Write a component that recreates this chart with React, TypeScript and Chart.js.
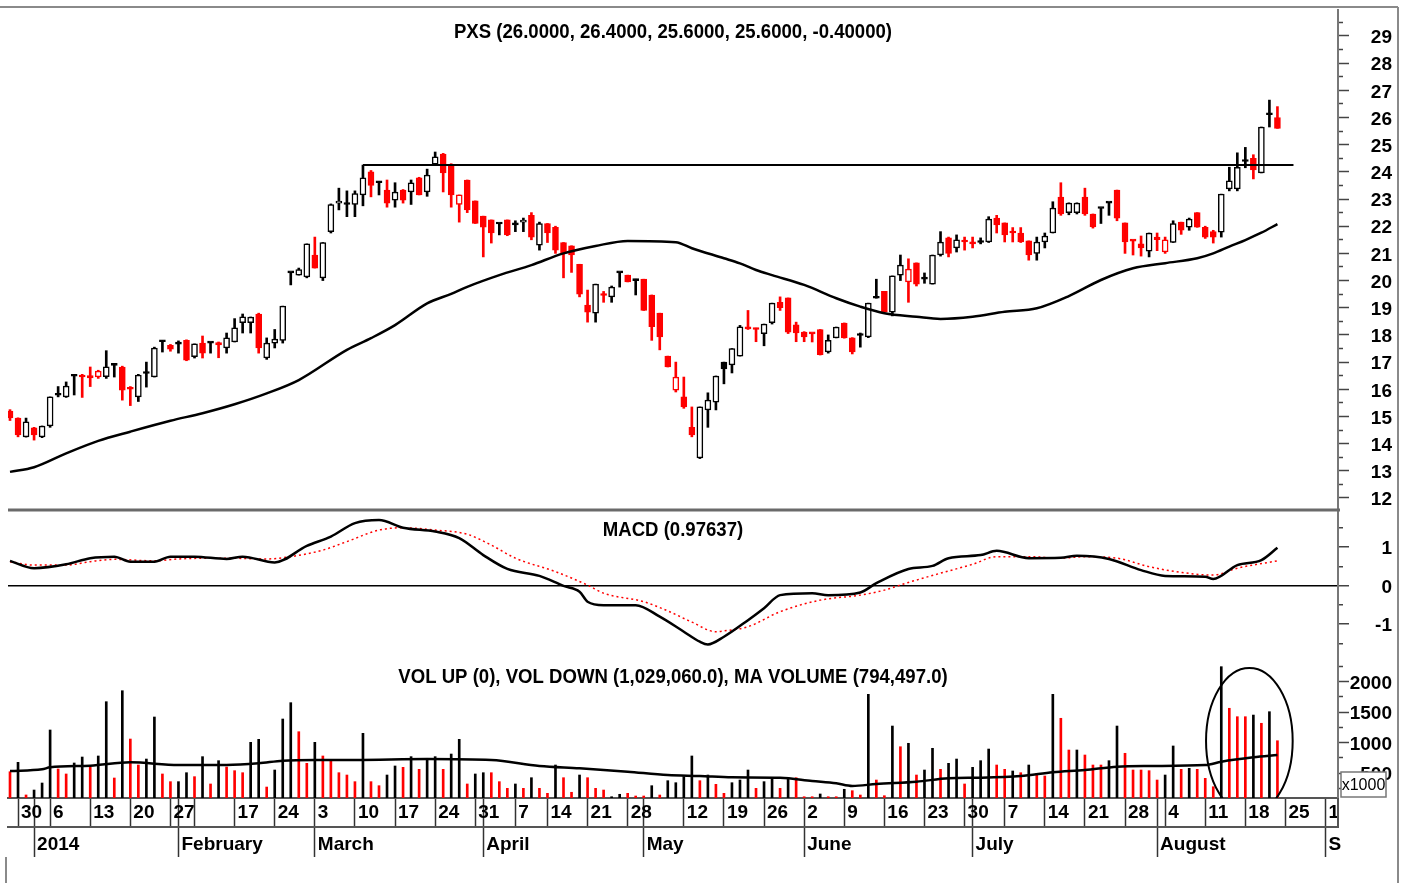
import React, { useEffect, useRef } from 'react';
import { Chart, registerables } from 'chart.js';
Chart.register(...registerables);

// ---------------- DATA ----------------
// trading-day index 0 = 27 Dec 2013 ... 158 = 22 Aug 2014
const openP = [15.20,14.94,14.25,14.58,14.25,14.65,15.85,15.72,16.50,16.50,
16.50,16.45,16.46,16.90,16.82,16.05,15.72,16.60,16.45,17.78,
17.62,17.67,17.80,17.20,17.70,17.72,17.72,17.52,17.74,18.45,
18.45,18.77,17.15,17.70,17.80,20.30,20.20,20.13,20.94,20.10,
21.80,22.85,22.82,22.80,23.15,24.00,23.62,23.33,22.96,23.33,
23.26,23.78,23.26,24.28,24.65,24.25,22.80,23.70,22.93,22.37,
22.23,22.10,22.23,22.08,22.15,22.40,21.30,22.10,21.96,21.40,
21.28,20.60,19.10,18.80,19.50,19.40,20.30,20.20,20.02,20.05,
19.47,18.80,17.22,15.97,15.72,14.60,13.47,15.24,15.53,17.00,
16.90,17.22,18.27,18.25,18.05,18.45,19.20,19.36,18.37,18.10,
18.07,18.20,17.37,17.89,18.44,17.89,18.00,17.93,19.37,19.60,
18.84,20.20,19.95,20.65,20.07,19.87,20.94,21.57,21.20,21.45,
21.40,21.42,21.42,22.30,22.12,21.80,21.75,21.46,21.00,21.42,
21.75,23.07,22.50,22.50,23.07,22.45,22.67,22.87,23.33,22.12,
21.50,21.35,21.08,21.60,21.05,21.40,22.15,21.96,22.50,21.96,
21.80,21.78,23.37,23.37,24.42,24.50,23.96,26.15,26.00];
const highP = [15.25,14.95,14.94,14.60,14.65,15.72,16.10,16.27,16.55,16.55,
16.82,16.70,17.42,16.92,16.85,16.10,16.55,17.00,17.55,17.80,
17.65,17.78,17.82,17.67,17.96,17.74,17.74,18.07,18.60,18.77,
18.66,18.80,17.89,18.20,19.06,20.32,20.46,21.35,21.60,21.40,
22.82,23.40,23.30,23.30,24.25,24.05,23.65,23.70,23.60,23.35,
23.70,23.80,24.10,24.73,24.68,24.30,23.15,23.70,22.93,22.37,
22.23,22.12,22.23,22.20,22.30,22.50,22.15,22.10,22.00,21.40,
21.28,20.60,19.65,19.87,19.60,19.80,20.32,20.20,20.05,20.05,
19.47,18.80,17.22,17.00,16.45,15.35,15.35,15.87,16.49,17.00,
17.50,18.35,18.90,18.25,18.40,19.17,19.40,19.36,18.47,18.12,
18.08,18.20,18.00,18.29,18.44,17.90,18.07,19.17,20.05,19.60,
20.17,20.94,20.80,20.65,20.28,20.94,21.80,21.60,21.68,21.60,
21.60,21.57,22.35,22.40,22.12,21.95,21.95,21.46,21.60,21.75,
22.90,23.60,22.86,22.86,23.40,22.45,22.68,22.88,23.33,22.12,
21.50,21.64,21.75,21.75,21.60,22.20,22.15,22.30,22.50,22.00,
21.85,23.18,24.17,24.70,24.90,24.63,25.65,26.64,26.40];
const lowP = [14.85,14.25,14.24,14.13,14.22,14.60,15.72,15.70,15.79,15.70,
16.10,16.40,16.40,16.45,15.60,15.40,15.55,16.08,16.45,17.37,
17.40,17.33,17.05,17.15,17.15,17.33,17.16,17.33,17.74,18.07,
18.07,17.33,17.10,17.52,17.70,19.84,20.20,20.10,20.46,20.00,
21.75,22.60,22.35,22.35,22.75,23.08,23.15,22.70,22.70,22.85,
22.80,23.15,23.10,24.28,23.26,22.70,22.15,22.50,22.10,20.87,
21.38,21.68,21.65,21.80,21.80,21.50,21.12,21.40,21.00,20.10,
20.30,19.40,18.47,18.47,19.20,19.20,19.76,19.95,19.47,18.90,
17.80,17.45,16.82,15.90,15.30,14.25,13.45,14.60,15.24,16.20,
16.60,17.22,18.20,17.75,17.60,18.40,18.90,18.05,17.75,17.75,
17.74,17.26,17.33,17.89,17.88,17.30,17.55,17.90,19.35,18.84,
18.70,20.00,19.20,19.80,19.90,19.87,20.90,20.87,21.05,21.12,
21.20,21.35,21.40,21.75,21.42,21.42,21.40,20.75,20.75,21.20,
21.75,22.40,22.42,22.45,22.40,21.93,22.10,22.40,22.20,21.00,
20.94,20.90,20.87,21.10,21.00,21.40,21.70,21.85,21.96,21.55,
21.38,21.60,23.30,23.30,24.15,23.74,23.96,25.65,25.60];
const closeP = [14.95,14.32,14.80,14.32,14.65,15.72,15.78,16.12,16.48,16.45,
16.42,16.67,16.83,16.88,15.97,16.00,16.52,16.58,17.52,17.75,
17.48,17.66,17.07,17.67,17.33,17.70,17.63,17.89,18.26,18.67,
18.66,17.52,17.70,17.85,19.06,20.28,20.40,21.35,20.46,21.40,
22.80,22.85,22.80,23.20,23.78,23.50,23.60,22.85,23.26,22.96,
23.60,23.15,23.88,24.55,23.96,23.15,23.15,22.60,22.10,21.96,
21.75,22.08,21.68,22.05,22.15,21.60,22.10,21.75,21.12,21.00,
20.94,19.50,18.84,19.87,19.45,19.76,20.28,19.95,20.00,18.90,
18.30,17.93,16.82,16.45,15.35,14.32,15.35,15.60,16.49,16.75,
17.50,18.30,18.22,18.20,18.40,19.17,19.00,18.10,18.07,17.93,
18.04,17.27,17.80,18.29,17.89,17.37,17.98,19.17,19.35,18.84,
20.17,20.57,20.42,19.87,20.05,20.94,21.42,21.00,21.50,21.42,
21.35,21.40,22.26,22.05,21.68,21.75,21.42,20.94,21.42,21.64,
22.67,22.45,22.85,22.85,22.45,21.97,22.65,22.85,22.30,21.42,
21.45,21.20,21.75,21.50,21.50,22.10,21.85,22.26,21.96,21.60,
21.60,23.18,23.67,24.17,24.38,24.07,25.65,26.10,25.60];
// R = down day (red), B = up day (black)
const candleDir = 'RRBRBBBBBR' + 'RRBBRRBBBB' + 'RBRBRBRBBB' + 'BRBBBBBBRB' + 'BBBBBRBRBR' +
  'BRBBRRRRRR' + 'RBRBBRBRRR' + 'RRRBRBBRBR' + 'RRRRRRBBBB' + 'BBRRBBRRRR' +
  'RRBBRRBBBR' + 'BBRRBBBRBR' + 'RBBRRRRRBB' + 'BRBBRRBBRR' + 'RRBRRBRBRR' + 'RBBBBRBBR';

// volume in thousands of shares
const volume = [521,675,140,221,336,1205,566,484,664,762,
598,779,1669,418,1849,1057,631,729,1418,484,
358,358,505,440,768,320,702,598,538,505,
1003,1052,270,549,1385,1653,1177,659,1003,779,
724,505,467,358,1150,358,292,467,615,593,
768,560,713,768,560,811,1052,320,484,505,
505,358,249,320,249,423,249,167,631,423,
184,467,423,249,221,111,151,167,123,123,
292,139,374,341,440,779,374,467,314,167,
341,385,549,249,358,397,249,397,423,111,
111,156,111,111,233,210,139,1790,385,128,
1270,931,987,467,549,905,560,659,729,320,
593,702,893,631,560,533,505,631,495,451,
1790,1397,877,877,795,631,631,702,1270,823,
549,549,538,385,467,943,560,577,560,413,
275,2243,1561,1423,1423,1450,1315,1505,1029];
const volumeDir = 'RBRBBBRRBB' + 'RBBRBRRBBR' + 'RBBRBRBRRR' + 'BBRBBBRRBR' + 'RRRRBRRBBR' +
  'BRBBRBBRBB' + 'RRRBRBRRBR' + 'RBRRRBBRRR' + 'BRBBBBRBRR' + 'BBBRBBRBRR' +
  'RBRRBRRBRR' + 'BRBRBBRBBR' + 'BBBRRBRBRR' + 'BRRBRRRBBR' + 'RRRRBBRBRR' + 'RBRRRBRBR';

// price moving average (read at these trading-day indexes)
const maIdx = [0,3,7,11,15,20,24,28,32,36,42,45,48,52,55,57,61,65,69,73,77,83,85,89,91,93,95,99,103,106,109,113,116,120,124,128,132,136,140,144,148,150,152,154,156,158];
const maVal = [12.96,13.13,13.64,14.10,14.44,14.84,15.12,15.45,15.85,16.34,17.45,17.88,18.36,19.16,19.51,19.77,20.20,20.57,21.00,21.27,21.46,21.41,21.19,20.82,20.63,20.39,20.20,19.84,19.35,19.04,18.80,18.67,18.59,18.67,18.85,18.98,19.43,20.02,20.45,20.64,20.82,21.00,21.25,21.49,21.76,22.08];

// MACD and its signal line
const macdIdx = [0,3,7,10,13,15,18,20,23,27,29,33,37,40,43,46,49,53,56,59,62,66,69,71,72,74,78,81,84,86,87,89,92,94,96,100,102,106,108,112,115,117,121,123,127,131,133,137,141,144,149,150,153,156,158];
const macdVal = [0.64,0.45,0.55,0.71,0.75,0.62,0.62,0.75,0.75,0.69,0.75,0.60,1.03,1.27,1.62,1.70,1.50,1.40,1.23,0.79,0.43,0.25,-0.01,-0.16,-0.42,-0.51,-0.51,-0.81,-1.20,-1.46,-1.53,-1.33,-0.90,-0.59,-0.25,-0.20,-0.25,-0.18,0.06,0.43,0.51,0.71,0.79,0.90,0.71,0.72,0.77,0.69,0.40,0.25,0.23,0.17,0.53,0.66,0.98];
const sigIdx = [0,3,7,10,13,18,21,27,32,34,39,42,46,49,53,57,60,63,68,72,74,79,82,85,88,89,92,96,101,106,109,112,116,120,123,127,131,134,138,142,146,150,153,158];
const sigVal = [0.62,0.53,0.53,0.62,0.68,0.64,0.69,0.71,0.69,0.72,0.92,1.14,1.44,1.50,1.44,1.33,1.05,0.71,0.36,0.01,-0.20,-0.42,-0.66,-0.95,-1.20,-1.18,-1.07,-0.68,-0.38,-0.25,-0.12,0.08,0.32,0.55,0.75,0.75,0.71,0.75,0.71,0.49,0.34,0.27,0.45,0.64];

// volume moving average
const vmaIdx = [0,4,5,10,15,21,27,31,34,38,43,52,60,66,71,77,82,86,90,96,100,103,105,108,113,117,121,126,130,134,138,142,149,151,155,158];
const vmaVal = [533,560,593,620,675,631,631,659,702,713,713,729,713,615,577,521,467,451,429,423,369,331,287,320,358,413,423,451,511,549,603,615,631,685,757,794];

// horizontal resistance line drawn on the price panel
const resistanceLevel = 24.25;
const resistanceFrom = 44;
const resistanceTo = 160;

// highlighted volume area (ellipse): centre index, centre volume, radii
const highlightIdx = 154.5;
const highlightVol = 1025;
const highlightIdxRadius = 5.4;
const highlightVolRadius = 1197;

// x axis ticks (trading-day index) and their labels
const weekTickIdx = [1,5,10,15,20,23,28,33,38,43,48,53,58,63,67,72,77,84,89,94,99,104,109,114,119,124,129,134,139,144,149,154,159,164];
const weekTickLabels = ['30','6','13','20','27','','17','24','3','10','17','24','31','7','14','21','28','12','19','26','2','9','16','23','30','7','14','21','28','4','11','18','25','1'];
const monthTickIdx = [3,21,38,59,79,99,120,143,164];
const monthTickLabels = ['2014','February','March','April','May','June','July','August','S'];

const titlePrice = 'PXS (26.0000, 26.4000, 25.6000, 25.6000, -0.40000)';
const titleMacd = 'MACD (0.97637)';
const titleVol = 'VOL UP (0), VOL DOWN (1,029,060.0), MA VOLUME (794,497.0)';
const unitLabel = 'x1000';

// ---------------- LAYOUT / STYLE ----------------
const W = 1407;
const H = 883;
const X_MIN = -0.25;
const X_MAX = 165.55;
const P_MIN = 11.558, P_MAX = 29.955;
const M_MIN = -1.727, M_MAX = 1.961;
const V_MIN = 90.2, V_MAX = 2483.6;
const RED = '#ff0000';
const SANS = "'Liberation Sans', Arial, sans-serif";
const tickFont = { family: SANS, size: 19, weight: 'bold' as const };
const TITLE_SCALE_X = 0.885;

const overlayPlugin = {
  id: 'overlay',
  afterDatasetsDraw(chart: any) {
    const { ctx, chartArea, scales } = chart;
    const x = scales.x, yV = scales.yV;
    ctx.save();
    ctx.beginPath();
    ctx.rect(chartArea.left, yV.top, chartArea.right - chartArea.left, yV.bottom - yV.top);
    ctx.clip();
    const cx = x.getPixelForValue(highlightIdx);
    const cy = yV.getPixelForValue(highlightVol);
    const rx = Math.abs(x.getPixelForValue(highlightIdx + highlightIdxRadius) - cx);
    const ry = Math.abs(yV.getPixelForValue(highlightVol + highlightVolRadius) - cy);
    ctx.beginPath();
    ctx.ellipse(cx, cy, rx, ry, 0, 0, Math.PI * 2);
    ctx.strokeStyle = '#000';
    ctx.lineWidth = 2;
    ctx.stroke();
    ctx.restore();
  },
  afterDraw(chart: any) {
    const { ctx, chartArea, scales } = chart;
    const yP = scales.yP, yM = scales.yM, yV = scales.yV;
    ctx.save();
    // panel divider between price and MACD
    ctx.strokeStyle = '#6a6a6a';
    ctx.lineWidth = 3;
    ctx.beginPath();
    ctx.moveTo(chartArea.left, yM.top);
    ctx.lineTo(chartArea.right + 2, yM.top);
    ctx.stroke();
    // outer frame
    ctx.strokeStyle = '#8a8a8a';
    ctx.lineWidth = 2;
    ctx.beginPath();
    ctx.moveTo(0, 7);
    ctx.lineTo(1398, 7);
    ctx.moveTo(1398, 7);
    ctx.lineTo(1398, H);
    ctx.moveTo(6, 857);
    ctx.lineTo(6, H);
    ctx.stroke();
    // right edge of the date row
    ctx.strokeStyle = '#555';
    ctx.lineWidth = 2;
    ctx.beginPath();
    ctx.moveTo(chartArea.right, chartArea.bottom);
    ctx.lineTo(chartArea.right, scales.x2.top);
    ctx.stroke();
    // titles (condensed bold text)
    const cx = (chartArea.left + chartArea.right) / 2;
    const drawTitle = (t: string, y: number) => {
      ctx.save();
      ctx.translate(cx, y);
      ctx.scale(TITLE_SCALE_X, 1);
      ctx.fillStyle = '#000';
      ctx.font = `bold 21px ${SANS}`;
      ctx.textAlign = 'center';
      ctx.textBaseline = 'middle';
      ctx.fillText(t, 0, 0);
      ctx.restore();
    };
    drawTitle(titlePrice, yP.top + 22);
    drawTitle(titleMacd, yM.top + 20);
    drawTitle(titleVol, yV.top + 25);
    // unit box
    const bx = chartArea.right + 3, by = yV.bottom - 26, bw = 45, bh = 25;
    ctx.fillStyle = '#fff';
    ctx.fillRect(bx, by, bw, bh);
    ctx.strokeStyle = '#777';
    ctx.lineWidth = 1.5;
    ctx.strokeRect(bx, by, bw, bh);
    ctx.fillStyle = '#000';
    ctx.font = `16px ${SANS}`;
    ctx.textAlign = 'center';
    ctx.textBaseline = 'middle';
    ctx.fillText(unitLabel, bx + bw / 2, by + bh / 2 + 1);
    ctx.restore();
  },
};

const dateLabelMap = new Map<number, string>();
weekTickIdx.forEach((v, i) => dateLabelMap.set(v, weekTickLabels[i]));
const dateRowTicks = Array.from(new Set([...weekTickIdx, ...monthTickIdx])).sort((a, b) => a - b);
const monthLabelMap = new Map<number, string>();
monthTickIdx.forEach((v, i) => monthLabelMap.set(v, monthTickLabels[i]));

const yTickCommon = (labelled: (v: number) => boolean) => ({
  drawOnChartArea: false,
  tickLength: 11,
  tickColor: '#444',
  tickWidth: 1.5,
  tickBorderDash: (c: any) => (c.tick && labelled(c.tick.value) ? [] : [4, 40]),
});

const fitRightAxis = (s: any) => {
  s.width = 60;
  s.paddingTop = 0;
  s.paddingBottom = 0;
  s.paddingLeft = 0;
  s.paddingRight = 0;
};

export default function App() {
  const ref = useRef<HTMLCanvasElement>(null);
  useEffect(() => {
    if (!ref.current) return;
    const idx = closeP.map((_, i) => i);
    const isRed = (i: number) => candleDir[i] === 'R';
    const chart = new Chart(ref.current, {
      type: 'bar',
      data: {
        datasets: [
          {
            type: 'line',
            label: 'resistance',
            data: [{ x: resistanceFrom, y: resistanceLevel }, { x: resistanceTo, y: resistanceLevel }],
            yAxisID: 'yP',
            borderColor: '#000',
            borderWidth: 2,
            pointRadius: 0,
            order: 1,
          } as any,
          {
            type: 'line',
            label: 'MA',
            data: maIdx.map((x, i) => ({ x, y: maVal[i] })),
            yAxisID: 'yP',
            borderColor: '#000',
            borderWidth: 2.5,
            pointRadius: 0,
            cubicInterpolationMode: 'monotone',
            order: 2,
          } as any,
          {
            type: 'bar',
            label: 'body',
            data: idx.map((i) => ({ x: i, y: [openP[i], closeP[i]] })),
            yAxisID: 'yP',
            barThickness: 6,
            minBarLength: 2,
            grouped: false,
            borderSkipped: false,
            borderWidth: 1.5,
            borderColor: (c: any) => (isRed(c.dataIndex) ? RED : '#000'),
            backgroundColor: (c: any) => {
              const i = c.dataIndex;
              if (closeP[i] >= openP[i]) return '#fff';
              return isRed(i) ? RED : '#000';
            },
            order: 3,
          } as any,
          {
            type: 'bar',
            label: 'wick',
            data: idx.map((i) => ({ x: i, y: [lowP[i], highP[i]] })),
            yAxisID: 'yP',
            barThickness: 2,
            grouped: false,
            borderWidth: 0,
            backgroundColor: (c: any) => (isRed(c.dataIndex) ? RED : '#000'),
            order: 4,
          } as any,
          {
            type: 'line',
            label: 'MACD',
            data: macdIdx.map((x, i) => ({ x, y: macdVal[i] })),
            yAxisID: 'yM',
            borderColor: '#000',
            borderWidth: 2.5,
            pointRadius: 0,
            cubicInterpolationMode: 'monotone',
            order: 1,
          } as any,
          {
            type: 'line',
            label: 'Signal',
            data: sigIdx.map((x, i) => ({ x, y: sigVal[i] })),
            yAxisID: 'yM',
            borderColor: RED,
            borderWidth: 1.5,
            borderDash: [2, 3],
            pointRadius: 0,
            cubicInterpolationMode: 'monotone',
            order: 2,
          } as any,
          {
            type: 'line',
            label: 'MA volume',
            data: vmaIdx.map((x, i) => ({ x, y: vmaVal[i] })),
            yAxisID: 'yV',
            borderColor: '#000',
            borderWidth: 2.5,
            pointRadius: 0,
            cubicInterpolationMode: 'monotone',
            order: 1,
          } as any,
          {
            type: 'bar',
            label: 'volume',
            data: volume.map((v, i) => ({ x: i, y: v })),
            yAxisID: 'yV',
            barThickness: 2,
            grouped: false,
            borderWidth: 0,
            backgroundColor: (c: any) => (volumeDir[c.dataIndex] === 'R' ? RED : '#000'),
            order: 5,
          } as any,
        ],
      },
      options: {
        responsive: false,
        maintainAspectRatio: false,
        animation: false,
        devicePixelRatio: 1,
        events: [],
        layout: { padding: { left: 8, right: 9, top: 10, bottom: 0 } },
        plugins: { legend: { display: false }, tooltip: { enabled: false } },
        scales: {
          x: {
            type: 'linear',
            position: 'bottom',
            min: X_MIN,
            max: X_MAX,
            offset: false,
            afterBuildTicks: (s: any) => { s.ticks = dateRowTicks.map((v) => ({ value: v })); },
            afterFit: (s: any) => { s.height = 29; },
            ticks: {
              autoSkip: false,
              maxRotation: 0,
              minRotation: 0,
              align: 'start',
              labelOffset: 3,
              padding: -25.5,
              color: '#000',
              font: tickFont,
              callback: (v: any) => dateLabelMap.get(Number(v)) ?? '',
            },
            grid: { drawOnChartArea: false, drawTicks: true, tickLength: 29, tickColor: '#333', tickWidth: 1.5, offset: false },
            border: { display: true, color: '#555', width: 2 },
          },
          x2: {
            type: 'linear',
            position: 'bottom',
            min: X_MIN,
            max: X_MAX,
            offset: false,
            afterBuildTicks: (s: any) => { s.ticks = monthTickIdx.map((v) => ({ value: v })); },
            afterFit: (s: any) => { s.height = 56; },
            ticks: {
              autoSkip: false,
              maxRotation: 0,
              minRotation: 0,
              align: 'start',
              labelOffset: 3,
              padding: -23.5,
              color: '#000',
              font: tickFont,
              callback: (v: any) => monthLabelMap.get(Number(v)) ?? '',
            },
            grid: { drawOnChartArea: false, drawTicks: true, tickLength: 30, tickColor: '#333', tickWidth: 1.5, offset: false },
            border: { display: true, color: '#555', width: 2 },
          },
          yP: {
            type: 'linear',
            position: 'right',
            stack: 'panels',
            stackWeight: 500,
            min: P_MIN,
            max: P_MAX,
            afterFit: fitRightAxis,
            ticks: {
              stepSize: 0.5,
              includeBounds: false,
              autoSkip: false,
              mirror: true,
              padding: 54,
              labelOffset: 2,
              color: '#000',
              font: tickFont,
              callback: (v: any) => (Number.isInteger(v) && v <= 29 ? String(v) : ''),
            },
            grid: yTickCommon((v) => Number.isInteger(v)),
            border: { display: true, color: '#777', width: 2 },
          },
          yM: {
            type: 'linear',
            position: 'right',
            stack: 'panels',
            stackWeight: 142,
            min: M_MIN,
            max: M_MAX,
            afterFit: fitRightAxis,
            ticks: {
              stepSize: 0.5,
              includeBounds: false,
              autoSkip: false,
              mirror: true,
              padding: 54,
              labelOffset: 2,
              color: '#000',
              font: tickFont,
              callback: (v: any) => (Number.isInteger(v) ? String(v) : ''),
            },
            grid: {
              ...yTickCommon((v) => Number.isInteger(v)),
              drawOnChartArea: true,
              color: (c: any) => (c.tick && c.tick.value === 0 ? '#000' : 'rgba(0,0,0,0)'),
              lineWidth: 1.5,
            },
            border: { display: true, color: '#777', width: 2 },
          },
          yV: {
            type: 'linear',
            position: 'right',
            stack: 'panels',
            stackWeight: 146,
            min: V_MIN,
            max: V_MAX,
            afterFit: fitRightAxis,
            ticks: {
              stepSize: 250,
              includeBounds: false,
              autoSkip: false,
              mirror: true,
              padding: 54,
              labelOffset: 2,
              color: '#000',
              font: tickFont,
              callback: (v: any) => (v % 500 === 0 ? String(v) : ''),
            },
            grid: yTickCommon((v) => v % 500 === 0),
            border: { display: true, color: '#777', width: 2 },
          },
        },
      } as any,
      plugins: [overlayPlugin],
    });
    return () => chart.destroy();
  }, []);
  return (
    <div style={{ position: 'absolute', left: 0, top: 0, width: W, height: H, background: '#fff' }}>
      <canvas ref={ref} width={W} height={H} style={{ display: 'block' }} />
    </div>
  );
}
